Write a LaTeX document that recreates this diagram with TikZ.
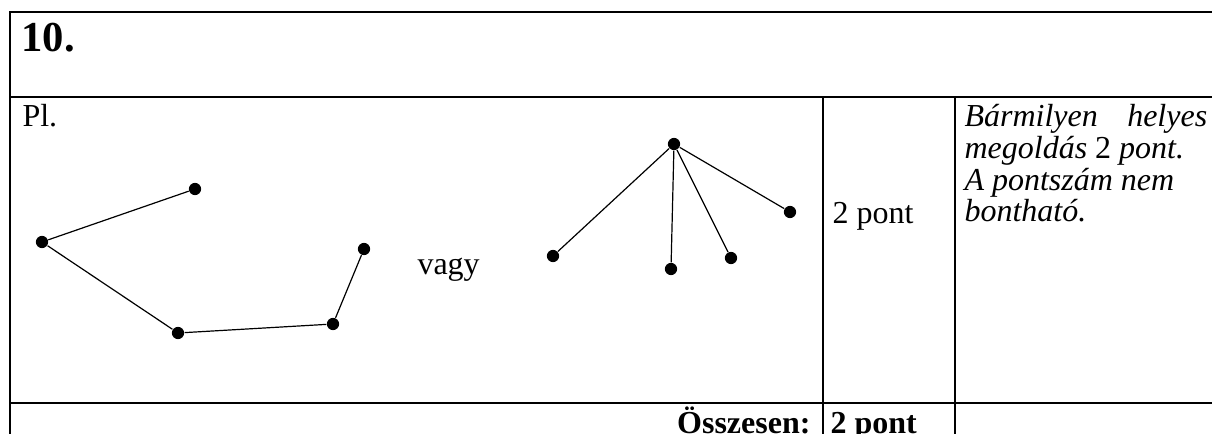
\documentclass[tikz,border=0pt]{standalone}
\usepackage{fontspec}
\setmainfont{Liberation Serif}
\usetikzlibrary{positioning}

\begin{document}
\begin{tikzpicture}[x=0.375pt, y=-0.375pt,
    csucs/.style={circle, fill=black, inner sep=0pt, minimum size=4.6pt},
    el/.style={line width=0.45pt},
    vastag/.style={line width=0.8pt},
    szoveg/.style={anchor=base west, inner sep=0pt, font=\fontsize{12}{14}\selectfont},
    dolt/.style={szoveg, font=\fontsize{12}{14}\selectfont\itshape}]
    \useasboundingbox (0,0) rectangle (1212,434);

    % Táblázat vonalai
    \draw[vastag] (9,12) -- (1212,12);
    \draw[vastag] (10,12) -- (10,434);
    \draw[vastag] (10,97) -- (510,97);
    \draw[el] (510,97) -- (814,97);
    \draw[vastag] (814,97) -- (1212,97);
    \draw[vastag] (823,97) -- (823,434);
    \draw[vastag] (955,97) -- (955,434);
    \draw[vastag] (10,403) -- (1212,403);

    % Feliratok
    \node[szoveg, font=\fontsize{16}{18}\selectfont\bfseries] (cim) at (21,52) {10.};
    \node[szoveg] (pl) at (22,127) {Pl.};
    \node[szoveg] (vagy) at (417,275) {vagy};
    \node[szoveg] (pont) at (832,224) {2 pont};

    % Megjegyzés soronként
    \node[dolt] (m1) at (964,127) {\makebox[91pt][s]{Bármilyen helyes}};
    \node[dolt] (m2) at (964,159) {megoldás {\upshape 2} pont.};
    \node[dolt] (m3) at (964,191) {A pontszám nem};
    \node[dolt] (m4) at (964,222) {bontható.};

    \node[szoveg, anchor=base east, font=\fontsize{12}{14}\selectfont\bfseries] (ossz) at (811,433) {Összesen:};
    \node[szoveg, font=\fontsize{12}{14}\selectfont\bfseries] (osszpont) at (830,433) {2 pont};

    % Első gráf (út)
    \node[csucs] (g1) at (195,189) {};
    \node[csucs] (g2) at (42,242) {};
    \node[csucs] (g3) at (178,333) {};
    \node[csucs] (g4) at (333,324) {};
    \node[csucs] (g5) at (364,249) {};
    \draw[el] (g1) -- (g2) -- (g3) -- (g4) -- (g5);

    % Második gráf (csillag)
    \node[csucs] (k) at (674,144) {};
    \node[csucs] (k1) at (553,256) {};
    \node[csucs] (k2) at (671,269) {};
    \node[csucs] (k3) at (731,258) {};
    \node[csucs] (k4) at (790,212) {};
    \draw[el] (k) -- (k1);
    \draw[el] (k) -- (k2);
    \draw[el] (k) -- (k3);
    \draw[el] (k) -- (k4);
\end{tikzpicture}
\end{document}
